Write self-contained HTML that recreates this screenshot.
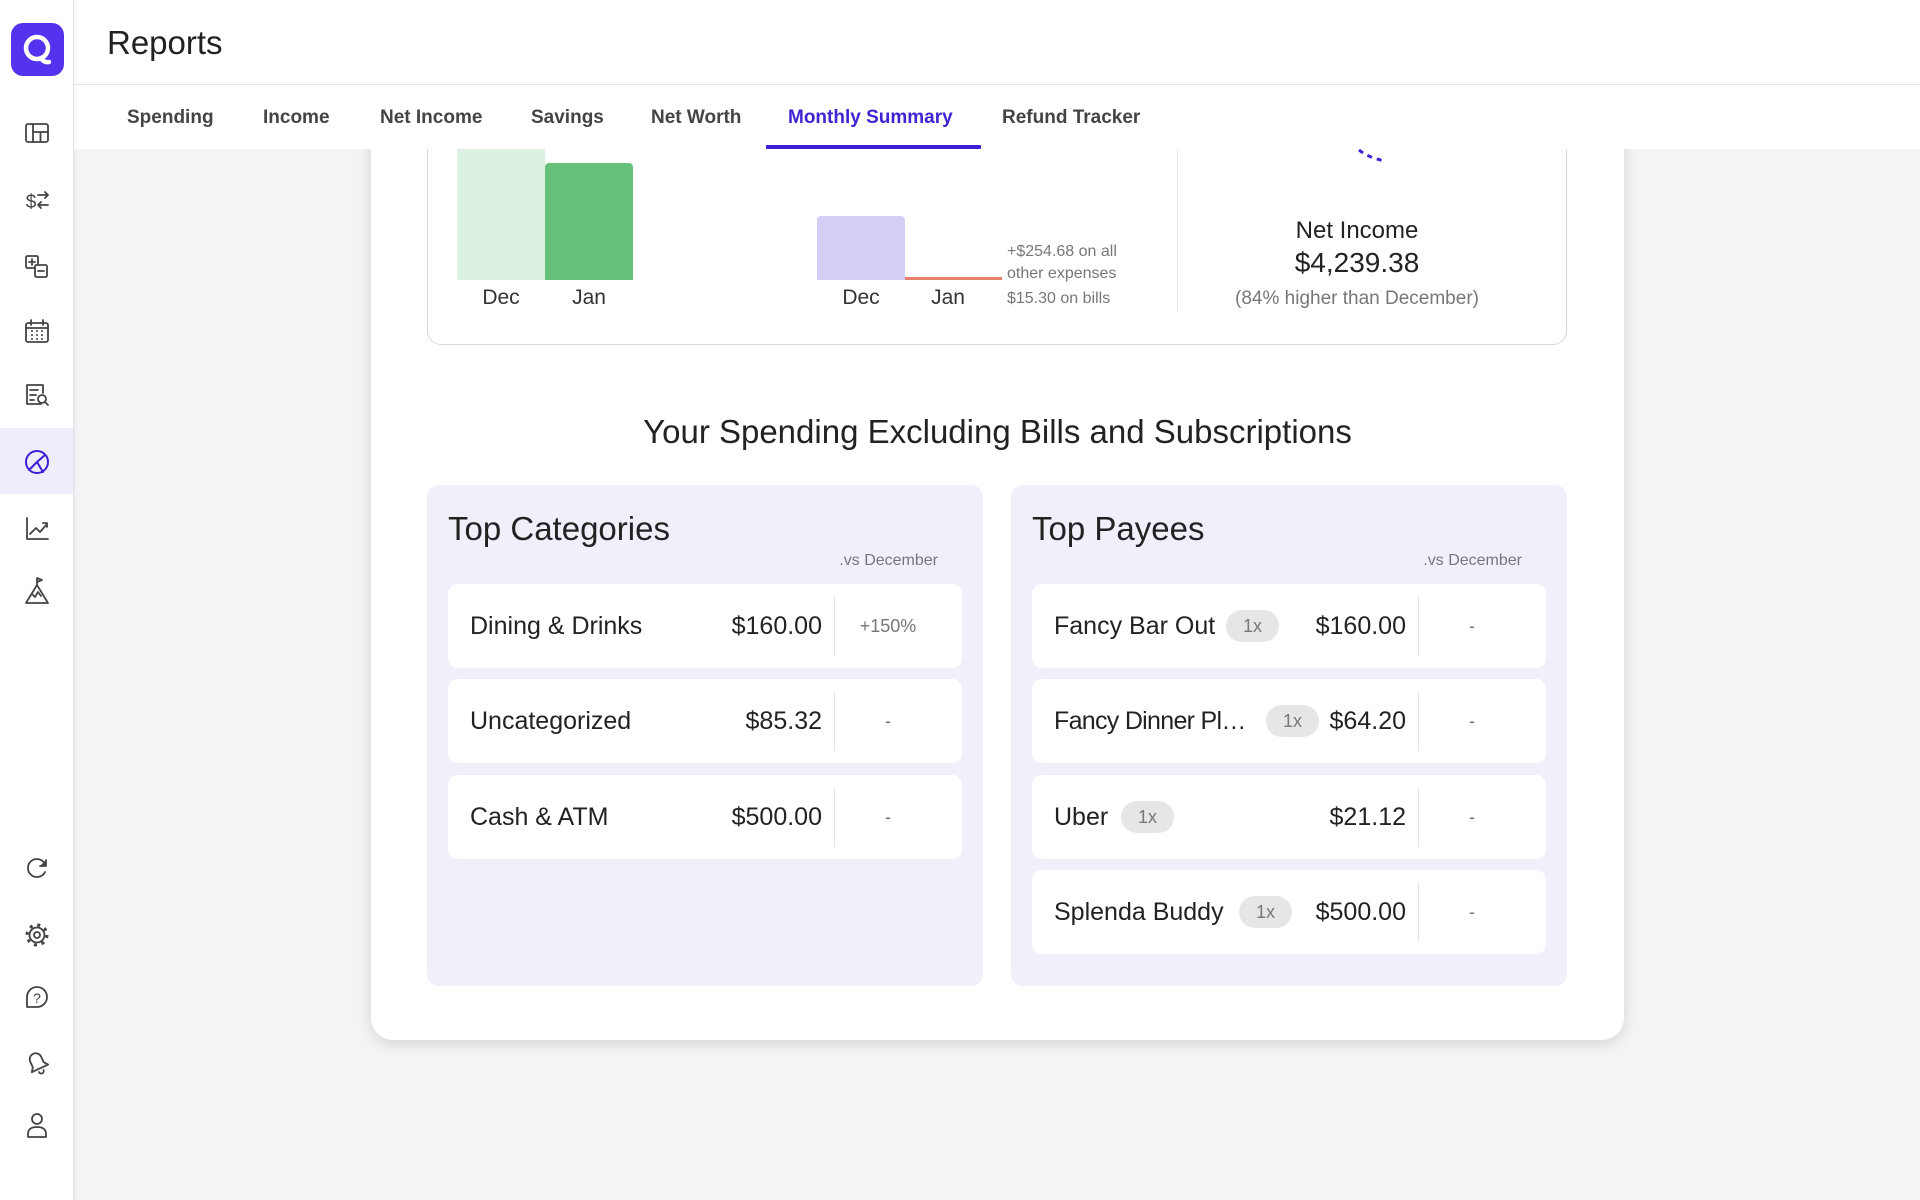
<!DOCTYPE html>
<html><head><meta charset="utf-8">
<style>
*{margin:0;padding:0;box-sizing:border-box}
html,body{width:1920px;height:1200px;overflow:hidden}
body{background:#f3f4f6;font-family:"Liberation Sans",sans-serif;color:#222;position:relative}
.a{position:absolute}
.t{position:absolute;white-space:nowrap;line-height:1}
.card{left:371px;top:-60px;width:1253px;height:1100px;background:#fff;border-radius:22px;box-shadow:0 4px 14px rgba(0,0,0,0.13)}
.inner{left:427px;top:-30px;width:1140px;height:375px;border:1px solid #d8d8d8;border-radius:14px;background:#fff}
.panel{background:#f0f0fb;border-radius:12px;top:485px;height:501px;width:556px}
.row{background:#fff;border-radius:10px;height:84px}
.nm{font-size:25px;color:#222}
.amt{font-size:25px;color:#222;text-align:right}
.div{width:1px;background:#e4e4e4}
.pc{font-size:18px;color:#777;text-align:center}
.pill{background:#e6e6e9;border-radius:16px;height:32px;width:53px;font-size:18px;color:#777;text-align:center;line-height:32px}
.tab{font-size:19px;font-weight:bold;color:#444;top:108px}
.lbl{font-size:21px;color:#333;text-align:center;width:80px}
.ann{font-size:16px;color:#777}
</style></head>
<body>

<!-- main card -->
<div class="a card"></div>
<div class="a inner"></div>

<!-- chart 1 -->
<div class="a" style="left:457px;top:100px;width:88px;height:180px;background:#dcf1e2;border-radius:4px 4px 0 0"></div>
<div class="a" style="left:545px;top:163px;width:88px;height:117px;background:#66c27a;border-radius:4px 4px 0 0"></div>
<div class="t lbl" style="left:461px;top:287px">Dec</div>
<div class="t lbl" style="left:549px;top:287px">Jan</div>

<!-- chart 2 -->
<div class="a" style="left:817px;top:216px;width:88px;height:64px;background:#d4cff6;border-radius:4px 4px 0 0"></div>
<div class="a" style="left:905px;top:277px;width:97px;height:3px;background:#e8806a"></div>
<div class="t lbl" style="left:821px;top:287px">Dec</div>
<div class="t lbl" style="left:908px;top:287px">Jan</div>
<div class="t ann" style="left:1007px;top:244px">+$254.68 on all</div>
<div class="t ann" style="left:1007px;top:266px">other expenses</div>
<div class="t ann" style="left:1007px;top:291px">$15.30 on bills</div>

<!-- divider + net income -->
<div class="a" style="left:1177px;top:140px;width:1px;height:172px;background:#e6e6e6"></div>
<svg class="a" style="left:0;top:0" width="1920" height="400">
<path d="M1359 150 Q1369 158 1385 161" stroke="#3b1fd6" stroke-width="3" fill="none" stroke-dasharray="5 5"/>
</svg>
<div class="t" style="left:1177px;width:360px;text-align:center;top:219px;font-size:24px;color:#222">Net Income</div>
<div class="t" style="left:1177px;width:360px;text-align:center;top:249px;font-size:28px;color:#222">$4,239.38</div>
<div class="t" style="left:1177px;width:360px;text-align:center;top:289px;font-size:19px;color:#777">(84% higher than December)</div>

<!-- heading -->
<div class="t" style="left:371px;width:1253px;text-align:center;top:415px;font-size:33px;color:#222">Your Spending Excluding Bills and Subscriptions</div>

<!-- Top Categories -->
<div class="a panel" style="left:427px"></div>
<div class="t" style="left:448px;top:512px;font-size:33px;color:#222">Top Categories</div>
<div class="t" style="left:738px;width:200px;text-align:right;top:553px;font-size:16px;color:#777">.vs December</div>

<div class="a row" style="left:448px;top:584px;width:514px"></div>
<div class="t nm" style="left:470px;top:614px">Dining &amp; Drinks</div>
<div class="t amt" style="left:602px;width:220px;top:614px">$160.00</div>
<div class="a div" style="left:834px;top:596px;height:60px"></div>
<div class="t pc" style="left:838px;width:100px;top:617px">+150%</div>

<div class="a row" style="left:448px;top:679px;width:514px"></div>
<div class="t nm" style="left:470px;top:709px">Uncategorized</div>
<div class="t amt" style="left:602px;width:220px;top:709px">$85.32</div>
<div class="a div" style="left:834px;top:691px;height:60px"></div>
<div class="t pc" style="left:838px;width:100px;top:712px">-</div>

<div class="a row" style="left:448px;top:775px;width:514px"></div>
<div class="t nm" style="left:470px;top:805px">Cash &amp; ATM</div>
<div class="t amt" style="left:602px;width:220px;top:805px">$500.00</div>
<div class="a div" style="left:834px;top:787px;height:60px"></div>
<div class="t pc" style="left:838px;width:100px;top:808px">-</div>

<!-- Top Payees -->
<div class="a panel" style="left:1011px"></div>
<div class="t" style="left:1032px;top:512px;font-size:33px;color:#222">Top Payees</div>
<div class="t" style="left:1322px;width:200px;text-align:right;top:553px;font-size:16px;color:#777">.vs December</div>

<div class="a row" style="left:1032px;top:584px;width:514px"></div>
<div class="t nm" style="left:1054px;top:614px">Fancy Bar Out</div>
<div class="a pill" style="left:1226px;top:610px">1x</div>
<div class="t amt" style="left:1186px;width:220px;top:614px">$160.00</div>
<div class="a div" style="left:1418px;top:596px;height:60px"></div>
<div class="t pc" style="left:1422px;width:100px;top:617px">-</div>

<div class="a row" style="left:1032px;top:679px;width:514px"></div>
<div class="t nm" style="left:1054px;top:709px;letter-spacing:-0.7px">Fancy Dinner Pl…</div>
<div class="a pill" style="left:1266px;top:705px">1x</div>
<div class="t amt" style="left:1186px;width:220px;top:709px">$64.20</div>
<div class="a div" style="left:1418px;top:691px;height:60px"></div>
<div class="t pc" style="left:1422px;width:100px;top:712px">-</div>

<div class="a row" style="left:1032px;top:775px;width:514px"></div>
<div class="t nm" style="left:1054px;top:805px">Uber</div>
<div class="a pill" style="left:1121px;top:801px">1x</div>
<div class="t amt" style="left:1186px;width:220px;top:805px">$21.12</div>
<div class="a div" style="left:1418px;top:787px;height:60px"></div>
<div class="t pc" style="left:1422px;width:100px;top:808px">-</div>

<div class="a row" style="left:1032px;top:870px;width:514px"></div>
<div class="t nm" style="left:1054px;top:900px">Splenda Buddy</div>
<div class="a pill" style="left:1239px;top:896px">1x</div>
<div class="t amt" style="left:1186px;width:220px;top:900px">$500.00</div>
<div class="a div" style="left:1418px;top:882px;height:60px"></div>
<div class="t pc" style="left:1422px;width:100px;top:903px">-</div>

<!-- header -->
<div class="a" style="left:0;top:0;width:1920px;height:149px;background:#fff"></div>
<div class="a" style="left:74px;top:84px;width:1846px;height:1px;background:#e6e6e6"></div>
<div class="t" style="left:107px;top:26px;font-size:33px;color:#222">Reports</div>

<div class="t tab" style="left:127px">Spending</div>
<div class="t tab" style="left:263px">Income</div>
<div class="t tab" style="left:380px">Net Income</div>
<div class="t tab" style="left:531px">Savings</div>
<div class="t tab" style="left:651px">Net Worth</div>
<div class="t tab" style="left:788px;color:#4024d4">Monthly Summary</div>
<div class="t tab" style="left:1002px">Refund Tracker</div>
<div class="a" style="left:766px;top:145px;width:215px;height:4px;background:#3b1fd6;border-radius:1px"></div>

<!-- sidebar -->
<div class="a" style="left:0;top:0;width:74px;height:1200px;background:#fff;border-right:1px solid #e3e3e6;box-shadow:1px 0 4px rgba(0,0,0,0.05)"></div>
<div class="a" style="left:0;top:428px;width:73px;height:66px;background:#efedfc"></div>
<div class="a" style="left:11px;top:23px;width:53px;height:53px;background:#5533ee;border-radius:12px"></div>
<svg class="a" style="left:0;top:0" width="74" height="1200">
<g fill="none" stroke="#fff" stroke-width="4.5" stroke-linecap="round">
<circle cx="37" cy="48" r="11"/>
<path d="M41 58 Q44 63 49 62"/>
</g>
<g fill="none" stroke="#444" stroke-width="1.8" stroke-linecap="round" stroke-linejoin="round">
<!-- 1 layout -->
<rect x="26" y="124" width="22" height="18" rx="2"/>
<path d="M33 124 V142 M33 132 H48 M40.5 132 V142"/>
<!-- 2 $ arrows -->
<path d="M38 195 H48 M45 192 L48 195 L45 198 M48 205 H38 M41 202 L38 205 L41 208"/>
<!-- 3 plus minus -->
<rect x="26" y="256" width="12" height="12" rx="1.5"/>
<path d="M29 262 H35 M32 259 V265"/>
<rect x="35" y="265" width="12" height="12" rx="1.5" fill="#fff"/>
<path d="M38 271 H44"/>
<!-- 4 calendar -->
<rect x="26" y="323" width="22" height="19" rx="2"/>
<path d="M26 328 H48 M31 320 V325 M43 320 V325"/>
<!-- 5 doc search -->
<path d="M41 404 H27 V385 H43 V393"/>
<path d="M30 390 H38 M30 395 H36 M30 400 H34"/>
<circle cx="42" cy="399" r="4"/>
<path d="M45 402 L48 405"/>
<!-- 7 chart -->
<path d="M27 518 V539 H48"/>
<path d="M30 534 L36 528 L40 532 L47 524 M43 523 H47 V527"/>
<!-- 8 mountain -->
<path d="M26 603 L37 585 L48 603 Z M37 585 V578 L42 580 L37 582 M32 594 L35 597 L38 592 L41 596"/>
<!-- refresh -->
<path d="M45 864 A9 9 0 1 0 45 872"/>
<path d="M46 860 V866 H40" fill="#444"/>
<!-- gear -->
<circle cx="37" cy="935" r="7.5"/>
<circle cx="37" cy="935" r="3"/>
<!-- question -->
<path d="M27 1007 V997 A10 10 0 1 1 37 1007 Z"/>
<!-- bell -->
<g transform="rotate(-25 37 1062)">
<path d="M28 1069 L31 1065 V1059 A6 6 0 0 1 43 1059 V1065 L46 1069 Z"/>
<path d="M34.5 1072 A2.5 2.5 0 0 0 39.5 1072"/>
</g>
<!-- person -->
<circle cx="37" cy="1119" r="5"/>
<path d="M28 1137 V1134 Q28 1127 37 1127 Q46 1127 46 1134 V1137 Z"/>
</g>
<circle cx="37" cy="935" r="10" fill="none" stroke="#444" stroke-width="3" stroke-dasharray="3 4.85"/>
<g fill="#444">
<circle cx="32" cy="331" r="1"/><circle cx="37" cy="331" r="1"/><circle cx="42" cy="331" r="1"/>
<circle cx="32" cy="335" r="1"/><circle cx="37" cy="335" r="1"/><circle cx="42" cy="335" r="1"/>
<circle cx="32" cy="339" r="1"/><circle cx="37" cy="339" r="1"/><circle cx="42" cy="339" r="1"/>
</g>
<text x="31" y="208" font-family="Liberation Sans, sans-serif" font-size="19" fill="#444" text-anchor="middle">$</text>
<text x="37" y="1003" font-family="Liberation Sans, sans-serif" font-size="14" fill="#444" text-anchor="middle">?</text>
<g fill="none" stroke="#3b1fd6" stroke-width="2" stroke-linecap="round">
<circle cx="37" cy="462" r="11"/>
<path d="M37 462 L45 455 M37 462 L29 470 M37 462 L43 472"/>
</g>
</svg>

</body></html>
